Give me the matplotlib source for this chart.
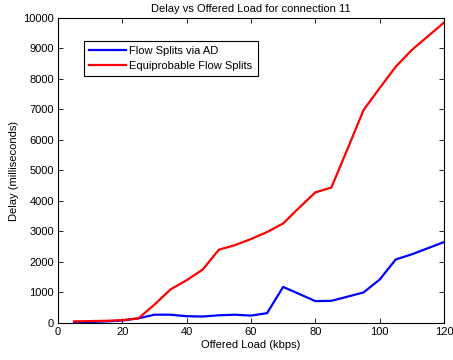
import matplotlib
matplotlib.use("Agg")
import matplotlib.pyplot as plt

plt.rcParams['font.family'] = ['Liberation Sans', 'DejaVu Sans']

load = [5, 10, 15, 20, 25, 30, 35, 40, 45, 50, 55, 60, 65, 70, 75, 80, 85, 90, 95, 100, 105, 110, 115, 120]
delay_ad = [20, 30, 50, 80, 150, 270, 270, 220, 210, 250, 270, 240, 320, 1180, 950, 715, 725, 860, 1000, 1420, 2080, 2250, 2450, 2650]
delay_equi = [50, 60, 70, 90, 150, 600, 1100, 1400, 1750, 2400, 2550, 2750, 2980, 3260, 3780, 4280, 4440, 5700, 6980, 7700, 8400, 8950, 9400, 9850]

fig = plt.figure(figsize=(4.53, 3.6), dpi=100)
ax = fig.add_axes([0.128, 0.103, 0.852, 0.847])

ax.plot(load, delay_ad, color='#0000ff', lw=1.6, label='Flow Splits via AD')
ax.plot(load, delay_equi, color='#ff0000', lw=1.6, label='Equiprobable Flow Splits')

ax.set_xlim(0, 120)
ax.set_ylim(0, 10000)
ax.set_xticks(range(0, 121, 20))
ax.set_yticks(range(0, 10001, 1000))
ax.tick_params(direction='in', top=True, right=True, labelsize=8, length=3.5, width=0.6, pad=3)
for s in ax.spines.values():
    s.set_linewidth(0.8)

ax.set_title('Delay vs Offered Load for connection 11', fontsize=8, pad=4)
ax.set_xlabel('Offered Load (kbps)', fontsize=8, labelpad=2)
ax.set_ylabel('Delay (milliseconds)', fontsize=8, labelpad=3)

leg = ax.legend(loc='upper left', bbox_to_anchor=(0.067, 0.925), fontsize=8,
                frameon=True, fancybox=False, edgecolor='black', framealpha=1,
                handlelength=3.3, handletextpad=0.35, borderpad=0.45,
                labelspacing=0.45, borderaxespad=0)
leg.get_frame().set_linewidth(0.8)

fig.savefig('out.png', dpi=100)
